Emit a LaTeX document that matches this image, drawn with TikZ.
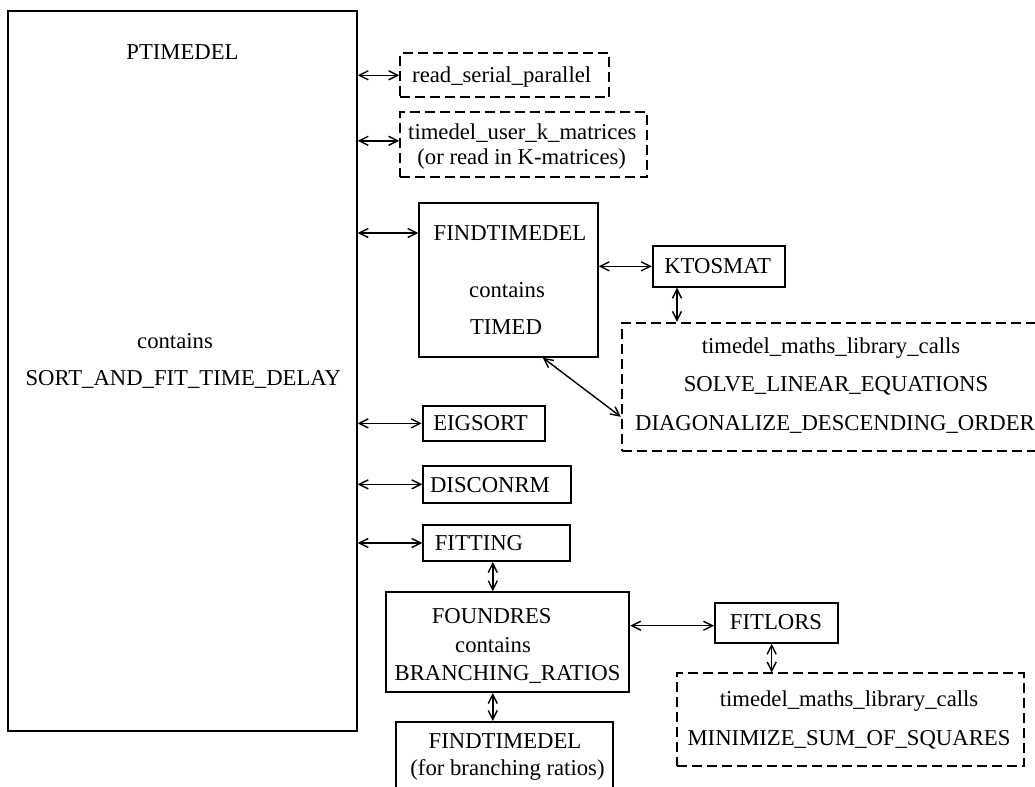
\documentclass[tikz,border=0pt]{standalone}
\usepackage{fontspec}
\setmainfont{Liberation Serif}
\usetikzlibrary{arrows.meta,fit,calc}
\begin{document}
\begin{tikzpicture}[x=0.5pt,y=-0.5pt,
  box/.style={draw,line width=1pt,inner sep=0pt},
  dbox/.style={draw,line width=0.85pt,dash pattern=on 5pt off 2.5pt,inner sep=0pt},
  txt/.style={inner sep=0pt,font=\fontsize{11.35}{13.6}\selectfont,text height=7.5pt,text depth=0pt},
  dbl/.style={{Straight Barb[length=4.5pt,width=4.5pt]}-{Straight Barb[length=4.5pt,width=4.5pt]},line width=0.7pt}]
\clip (0,0) rectangle (1035,787);
% boxes
\node[box,fit={(8.3,10.7)(356.7,731)}] (ptimedel) {};
\node[dbox,fit={(400,53.3)(609.3,97.3)}] (rsp) {};
\node[dbox,fit={(400,112.3)(647.3,177.3)}] (userk) {};
\node[box,fit={(419.3,202.7)(597.7,356.7)}] (find) {};
\node[box,fit={(652.7,246)(785,286.7)}] (ktos) {};
\node[dbox,fit={(621.7,322.7)(1042,451)}] (maths) {};
\node[box,fit={(422.7,406)(545,440.7)}] (eig) {};
\node[box,fit={(423.3,466)(571,502.7)}] (disc) {};
\node[box,fit={(423.3,525)(570,561)}] (fitg) {};
\node[box,fit={(386,592.3)(629.3,692)}] (found) {};
\node[box,fit={(715,602.7)(838,642.7)}] (fitl) {};
\node[dbox,fit={(677.3,673.3)(1024,766)}] (sq) {};
\node[box,fit={(396,722)(613,800)}] (find2) {};
% texts
\node[txt] (ptT) at (182.5,52) {PTIMEDEL};
\node[txt] (ptC) at (175,341) {contains};
\node[txt] (ptS) at (183.3,378) {SORT\_AND\_FIT\_TIME\_DELAY};
\node[txt] (rspT) at (501.7,75) {read\_serial\_parallel};
\node[txt] (ukT1) at (522.3,131.7) {timedel\_user\_k\_matrices};
\node[txt] (ukT2) at (521.7,157.3) {(or read in K-matrices)};
\node[txt] (fT1) at (510,233) {FINDTIMEDEL};
\node[txt] (fT2) at (507,290) {contains};
\node[txt] (fT3) at (506,327) {TIMED};
\node[txt] (kT) at (717.7,266) {KTOSMAT};
\node[txt] (mT1) at (831,346) {timedel\_maths\_library\_calls};
\node[txt] (mT2) at (836,384) {SOLVE\_LINEAR\_EQUATIONS};
\node[txt] (mT3) at (835,423) {DIAGONALIZE\_DESCENDING\_ORDER};
\node[txt] (eT) at (480.5,423.3) {EIGSORT};
\node[txt] (dT) at (490,485) {DISCONRM};
\node[txt] (gT) at (479,543.3) {FITTING};
\node[txt] (oT1) at (491.7,616) {FOUNDRES};
\node[txt] (oT2) at (493,645) {contains};
\node[txt] (oT3) at (507.5,673) {BRANCHING\_RATIOS};
\node[txt] (lT) at (776,622) {FITLORS};
\node[txt] (sT1) at (849,699) {timedel\_maths\_library\_calls};
\node[txt] (sT2) at (849,737.5) {MINIMIZE\_SUM\_OF\_SQUARES};
\node[txt] (f2T1) at (505,741) {FINDTIMEDEL};
\node[txt] (f2T2) at (507.5,767.5) {(for branching ratios)};
% connectors
\coordinate (ukA) at ($(userk.west)+(0,-4)$);
\coordinate (kx) at ($(ktos.south west)+(25.3,0)$);
\coordinate (vx) at ($(fitg.south west)+(70.5,0)$);
\coordinate (fA) at ($(fitl.west)+(0,3)$);
\coordinate (lx) at ($(fitl.south west)+(57.7,0)$);
\draw[dbl] (ptimedel.east |- rsp.west) -- (rsp.west);
\draw[dbl] (ptimedel.east |- ukA) -- (ukA);
\draw[dbl] (ptimedel.east |- fT1) -- (find.west |- fT1);
\draw[dbl] (find.east |- ktos.west) -- (ktos.west);
\draw[dbl] (kx) -- (maths.north -| kx);
\draw[dbl] ($(find.south west)!0.69!(find.south east)$) -- ($(maths.south west)!0.27!(maths.north west)$);
\draw[dbl] (ptimedel.east |- eig.west) -- (eig.west);
\draw[dbl] (ptimedel.east |- disc.west) -- (disc.west);
\draw[dbl] (ptimedel.east |- fitg.west) -- (fitg.west);
\draw[dbl] (vx) -- (found.north -| vx);
\draw[dbl] (found.south -| vx) -- (find2.north -| vx);
\draw[dbl] (found.east |- fA) -- (fitl.west |- fA);
\draw[dbl] (lx) -- (sq.north -| lx);
\end{tikzpicture}
\end{document}
